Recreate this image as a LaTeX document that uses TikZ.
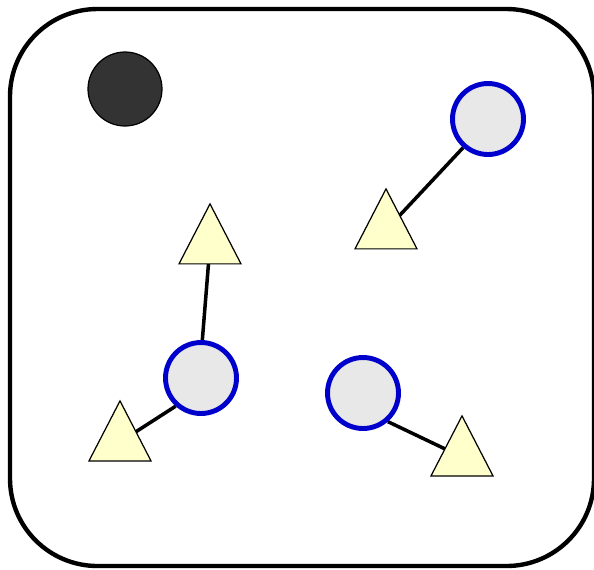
\documentclass[tikz,border=0pt]{standalone}
\usepackage{tikz}
\usetikzlibrary{shapes.geometric, backgrounds}
\definecolor{ringblue}{RGB}{0,0,204}
\definecolor{sitegray}{RGB}{232,232,232}
\definecolor{ligyellow}{RGB}{255,255,204}
\definecolor{darkball}{RGB}{51,51,51}

\begin{document}
\begin{tikzpicture}[
    x=0.02cm, y=-0.02cm,
    wall/.style    ={draw=black, line width=2.5pt, rounded corners=1.75cm},
    darkdot/.style ={circle, draw=black, line width=0.7pt, fill=darkball,
                     minimum size=1.48cm, inner sep=0pt},
    site/.style    ={circle, draw=ringblue, line width=2.8pt, fill=sitegray,
                     minimum size=1.42cm, inner sep=0pt},
    ligand/.style  ={isosceles triangle, isosceles triangle stretches,
                     shape border rotate=90, draw=black, line width=0.7pt,
                     fill=ligyellow, inner sep=0pt,
                     minimum width=1.24cm, minimum height=1.2cm},
    bond/.style    ={line width=2pt, black},
  ]

  \useasboundingbox (0,0) rectangle (594,569);

  % ---- container ----
  \draw[wall] (10,9) rectangle (594,566);

  % ---- free particle ----
  \node[darkdot] (free) at (125,89) {};

  % ---- binding sites (blue rings) ----
  \node[site] (sUR) at (488,119) {};
  \node[site] (sML) at (201,378) {};
  \node[site] (sLR) at (363,393) {};

  % ---- ligands (triangles) ----
  \node[ligand] (lA) at (210,245) {};
  \node[ligand] (lB) at (386,230) {};
  \node[ligand] (lC) at (120,442) {};
  \node[ligand] (lD) at (462,457) {};

  % ---- bonds, drawn behind the shapes ----
  \begin{scope}[on background layer]
    \draw[bond] (sUR.229) -- (lB.center);
    \draw[bond] (sML.88)  -- (lA.center);
    \draw[bond] (sML.228) -- (lC.center);
    \draw[bond] (sLR.-49) -- (lD.center);
  \end{scope}

\end{tikzpicture}
\end{document}
